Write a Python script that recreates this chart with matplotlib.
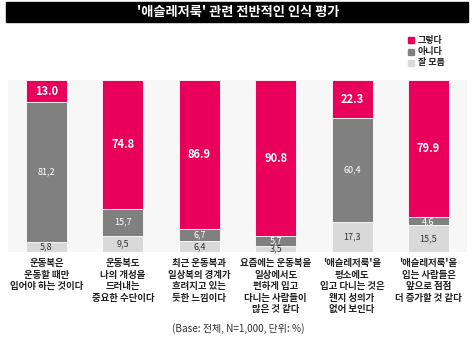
import matplotlib.pyplot as plt
from matplotlib.patches import Rectangle

plt.rcParams['font.family'] = ['Noto Sans CJK KR', 'DejaVu Sans']

categories = [
    "운동복은\n운동할 때만\n입어야 하는 것이다",
    "운동복도\n나의 개성을\n드러내는\n중요한 수단이다",
    "최근 운동복과\n일상복의 경계가\n흐려지고 있는\n듯한 느낌이다",
    "요즘에는 운동복을\n일상에서도\n편하게 입고\n다니는 사람들이\n많은 것 같다",
    "'애슬레저룩'을\n평소에도\n입고 다니는 것은\n왠지 성의가\n없어 보인다",
    "'애슬레저룩'을\n입는 사람들은\n앞으로 점점\n더 증가할 것 같다",
]
yes = [13.0, 74.8, 86.9, 90.8, 22.3, 79.9]
no = [81.2, 15.7, 6.7, 5.7, 60.4, 4.6]
unknown = [5.8, 9.5, 6.4, 3.5, 17.3, 15.5]
series_names = ["그렇다", "아니다", "잘 모름"]

c_yes = "#e8005a"
c_no = "#808080"
c_unk = "#d9d9d9"

fig = plt.figure(figsize=(4.76, 3.42), dpi=100)
W, H = 476, 342

# title bar
fig.patches.append(Rectangle((6 / W, 1 - 22 / H), 462 / W, 20 / H,
                             transform=fig.transFigure, color="black", zorder=0))
fig.text(0.5, 1 - 12 / H, "'애슬레저룩' 관련 전반적인 인식 평가", color="white",
         fontsize=9.5, fontweight="bold", ha="center", va="center")

ax = fig.add_axes([8 / W, 1 - 252 / H, 459 / W, 172 / H])
ax.set_facecolor("#f7f7f7")
for s in ax.spines.values():
    s.set_visible(False)
ax.set_xticks([])
ax.set_yticks([])

x = list(range(len(categories)))
w = 0.537
ax.bar(x, unknown, w, color=c_unk, edgecolor="white", linewidth=0.6)
ax.bar(x, no, w, bottom=unknown, color=c_no, edgecolor="white", linewidth=0.6)
bot = [u + n for u, n in zip(unknown, no)]
ax.bar(x, yes, w, bottom=bot, color=c_yes, edgecolor="white", linewidth=0.6)
ax.set_xlim(-0.504, 5.504)
ax.set_ylim(0, 100)

for i in x:
    ax.text(i, unknown[i] / 2, f"{unknown[i]:.1f}".replace(".", ","), ha="center", va="center",
            fontsize=6.5, color="#333333")
    ax.text(i, unknown[i] + no[i] / 2, f"{no[i]:.1f}".replace(".", ","), ha="center", va="center",
            fontsize=6.5, color="white")
    ax.text(i, bot[i] + yes[i] / 2, f"{yes[i]:.1f}", ha="center", va="center",
            fontsize=8, color="white", fontweight="bold")
    ax.text(i, -3.5, categories[i], ha="center", va="top", fontsize=6.8,
            color="#222222", fontweight="bold", linespacing=1.2)

# legend
for k, (name, col) in enumerate(zip(series_names, [c_yes, c_no, c_unk])):
    yy = 1 - (40 + k * 11.5) / H
    fig.patches.append(Rectangle((408 / W, yy - 3 / H), 6 / W, 6 / H,
                                 transform=fig.transFigure, color=col))
    fig.text(418 / W, yy, name, fontsize=6.5, va="center", ha="left", color="#222222",
             fontweight="bold")

fig.text(0.5, 1 - 329 / H, "(Base: 전체, N=1,000, 단위: %)", ha="center", va="center",
         fontsize=7.2, color="#333333")

fig.savefig("out.png", dpi=100)
